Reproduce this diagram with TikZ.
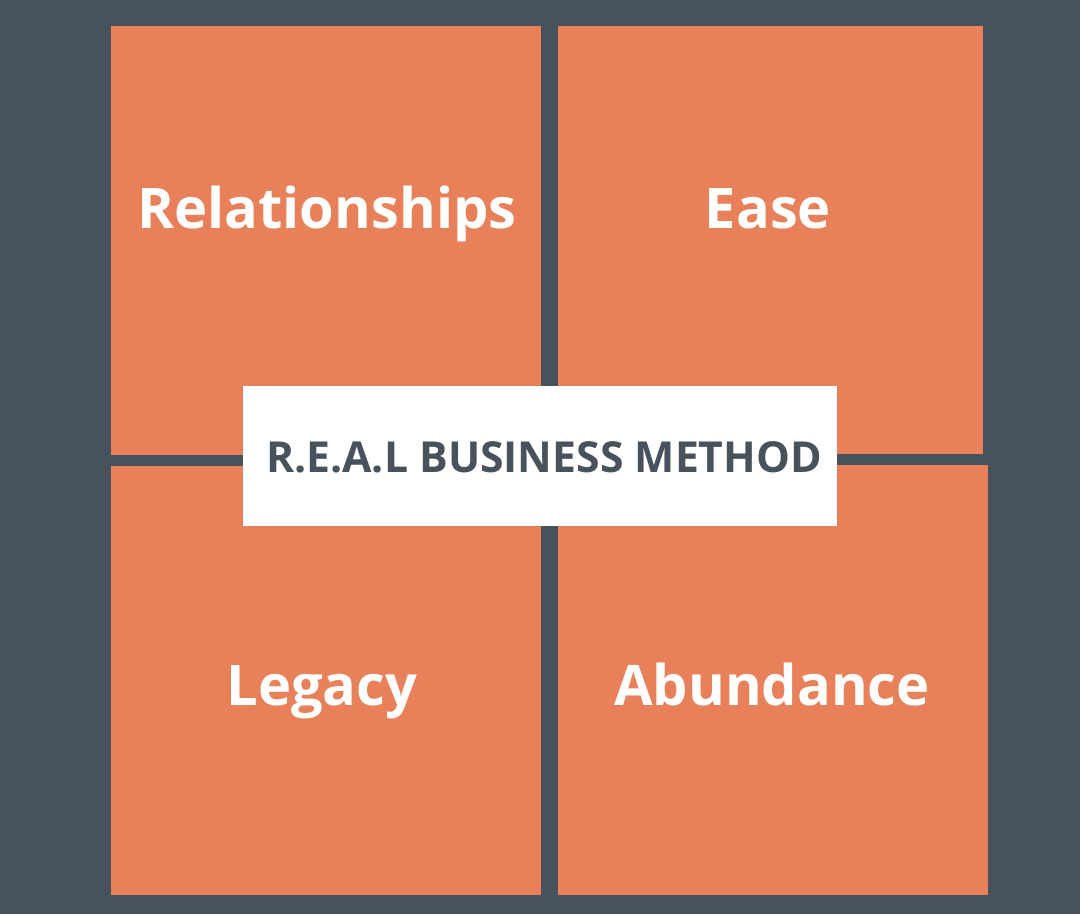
\documentclass[tikz,border=0pt]{standalone}
\usepackage{fontspec}
\setmainfont{Open Sans}
\definecolor{bgc}{HTML}{47525C}
\definecolor{orc}{HTML}{E8805A}
\tikzset{
  quad/.style={fill=orc, draw=none},
  qlabel/.style={text=white, font=\fontsize{56}{64}\selectfont\bfseries, anchor=base, inner sep=0pt},
  center/.style={fill=white, draw=none},
}
\begin{document}
\begin{tikzpicture}[x=1pt,y=-1pt]
\fill[bgc] (0,0) rectangle (1080,914);
\useasboundingbox (0,0) rectangle (1080,914);
\fill[quad] (111,26) rectangle (541,455);
\fill[quad] (558,26) rectangle (983,454);
\fill[quad] (111,466) rectangle (541,895);
\fill[quad] (558,465) rectangle (988,895);
\node[qlabel] (rel) at (327,228) {Relationships};
\node[qlabel] (ease) at (768,228) {Ease};
\node[qlabel] (leg) at (322,705) {Legacy};
\node[qlabel] (abu) at (772,705) {Abundance};
\fill[center] (243,386) rectangle (837,526);
\node[text=bgc, font=\fontsize{42.7}{48}\selectfont\bfseries, anchor=base, inner sep=0pt] (title) at (544,472) {R.E.A.L BUSINESS METHOD};
\end{tikzpicture}
\end{document}
